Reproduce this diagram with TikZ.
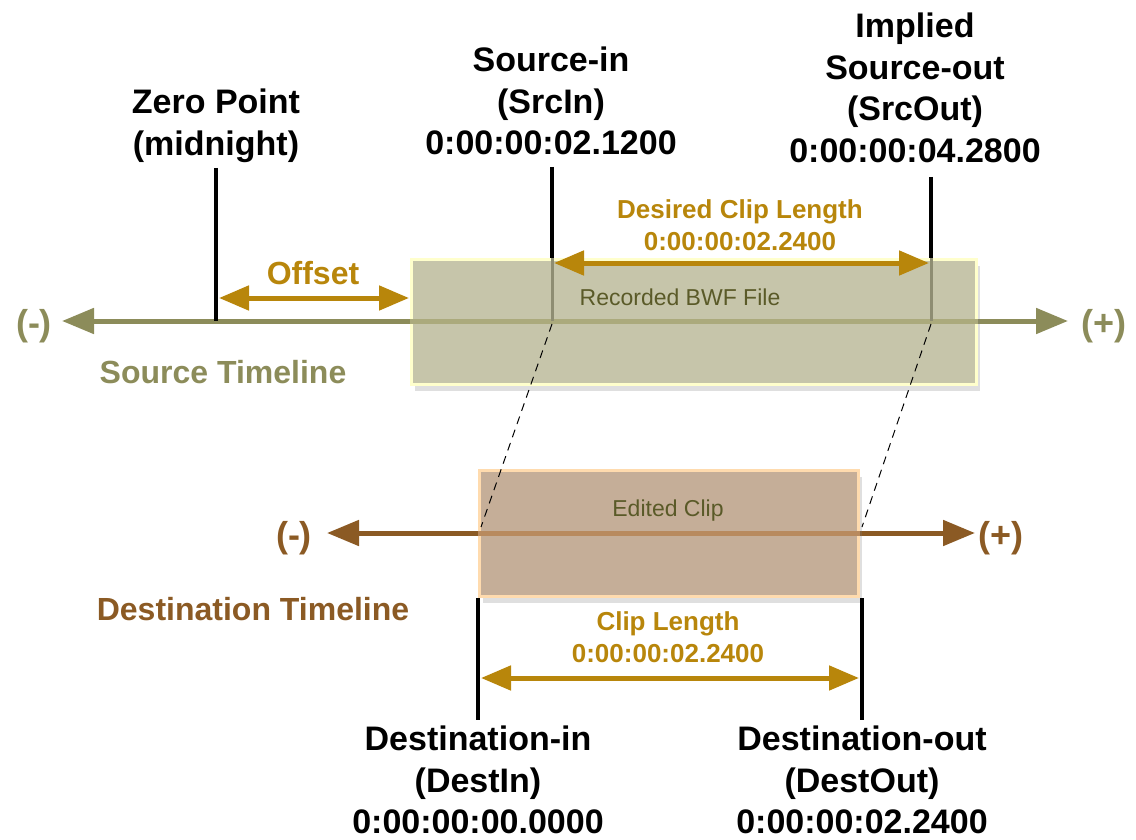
\documentclass[tikz,border=0pt]{standalone}
\usepackage{fontspec}
\setmainfont{Liberation Sans}
\usetikzlibrary{arrows.meta,shadows}
\definecolor{srcc}{HTML}{8C8C5A}
\definecolor{srclight}{HTML}{ABAA7C}
\definecolor{srcgrey}{HTML}{8E8D72}
\definecolor{goldc}{HTML}{B8860B}
\definecolor{destc}{HTML}{8B5A24}
\definecolor{destlight}{HTML}{B88A5E}
\definecolor{bwffill}{HTML}{C6C5AA}
\definecolor{bwfborder}{HTML}{FFFFCC}
\definecolor{edfill}{HTML}{C5AE98}
\definecolor{edborder}{HTML}{FFDBAE}
\definecolor{innertext}{HTML}{5A5A28}
\begin{document}
\begin{tikzpicture}[x=1pt,y=-1pt,
  lbl/.style={font=\fontsize{34}{41.5}\selectfont\bfseries, align=center, inner sep=0pt},
  glbl/.style={font=\fontsize{26}{32}\selectfont\bfseries, text=goldc, align=center, inner sep=0pt},
  tlbl/.style={font=\fontsize{32}{38}\selectfont\bfseries, inner sep=0pt},
  signlbl/.style={font=\fontsize{36}{40}\selectfont\bfseries, inner sep=0pt},
  inlbl/.style={font=\fontsize{23}{28}\selectfont, text=innertext, inner sep=0pt},
  tickline/.style={line width=4pt, black},
  timeline/.style={line width=5pt, {Triangle[length=32pt,width=25pt]}-{Triangle[length=32pt,width=25pt]}},
  goldarrow/.style={line width=5pt, goldc, {Triangle[length=30pt,width=24pt]}-{Triangle[length=30pt,width=24pt]}},
  bwfbox/.style={draw=bwfborder, fill=bwffill, line width=3pt, minimum width=565pt, minimum height=125pt, inner sep=0pt,
    drop shadow={shadow xshift=3pt, shadow yshift=-6pt, opacity=0.25}},
  edbox/.style={draw=edborder, fill=edfill, line width=3pt, minimum width=379pt, minimum height=126pt, inner sep=0pt,
    drop shadow={shadow xshift=3pt, shadow yshift=-6pt, opacity=0.25}},
  dashedconn/.style={black, line width=1pt, dash pattern=on 8pt off 6pt}
]
\useasboundingbox (0,0) rectangle (1136,840);

% ---------- source timeline ----------
\coordinate (sL) at (62,321);
\coordinate (sR) at (1068,321);
\coordinate (zT) at (216,168);
\coordinate (zB) at (216,321);
\coordinate (iT) at (552,167);
\coordinate (iB) at (552,321);
\coordinate (oT) at (931,177);
\coordinate (oB) at (931,321);

\draw[timeline, srcc] (sL) -- (sR);
\draw[tickline] (zT) -- (zB);
\draw[tickline] (iT) -- (iB);
\draw[tickline] (oT) -- (oB);

\node[bwfbox] (bwf) at (694,322) {};
\draw[line width=5pt, srclight] (bwf.west |- sL) -- (bwf.east |- sL);
\draw[line width=3pt, srcgrey] (iB |- bwf.north) -- (iB);
\draw[line width=3pt, srcgrey] (oB |- bwf.north) -- (oB);
\node[inlbl] (bwflbl) at (680,297) {Recorded BWF File};

\node[signlbl, text=srcc] (sminus) at (34,326) {(-)};
\node[signlbl, text=srcc] (splus) at (1104,326) {(+)};
\node[tlbl, text=srcc] (stl) at (223,372) {Source Timeline};

% offset and desired clip length
\coordinate (offL) at (219,298);
\coordinate (offR) at (409,298);
\draw[goldarrow] (offL) -- (offR);
\node[tlbl, text=goldc] (offlbl) at (313,273) {Offset};

\coordinate (dclL) at (554,263);
\coordinate (dclR) at (929,263);
\draw[goldarrow] (dclL) -- (dclR);
\node[glbl] (dcllbl) at (740,225) {Desired Clip Length\\0:00:00:02.2400};

% top labels
\node[lbl] (zp) at (216,126) {Zero Point\\(midnight)};
\node[lbl] (si) at (551,101) {Source-in\\(SrcIn)\\0:00:00:02.1200};
\node[lbl] (so) at (915,88) {Implied\\Source-out\\(SrcOut)\\0:00:00:04.2800};

% ---------- destination timeline ----------
\coordinate (dL) at (327,533);
\coordinate (dR) at (975,533);
\draw[timeline, destc] (dL) -- (dR);

\node[edbox] (ed) at (669,533.5) {};
\draw[line width=5pt, destlight] (ed.west |- dL) -- (ed.east |- dL);
\node[inlbl] (edlbl) at (668,511) {Edited Clip};

\node[signlbl, text=destc] (dminus) at (294,538) {(-)};
\node[signlbl, text=destc] (dplus) at (1001,538) {(+)};
\node[tlbl, text=destc] (dtl) at (253,609) {Destination Timeline};

\coordinate (diT) at (478,598);
\coordinate (diB) at (478,720);
\coordinate (doT) at (862,598);
\coordinate (doB) at (862,720);
\draw[tickline] (diT) -- (diB);
\draw[tickline] (doT) -- (doB);

\coordinate (clL) at (481,678);
\coordinate (clR) at (859,678);
\draw[goldarrow] (clL) -- (clR);
\node[glbl] (cllbl) at (668,637) {Clip Length\\0:00:00:02.2400};

% dashed projection lines
\coordinate (diD) at (481,527);
\coordinate (doD) at (862,527);
\draw[dashedconn] ([yshift=-3pt]iB) -- (diD);
\draw[dashedconn] ([yshift=-3pt]oB) -- (doD);

% bottom labels
\node[lbl] (di) at (478,780) {Destination-in\\(DestIn)\\0:00:00:00.0000};
\node[lbl] (do) at (862,780) {Destination-out\\(DestOut)\\0:00:00:02.2400};
\end{tikzpicture}
\end{document}
